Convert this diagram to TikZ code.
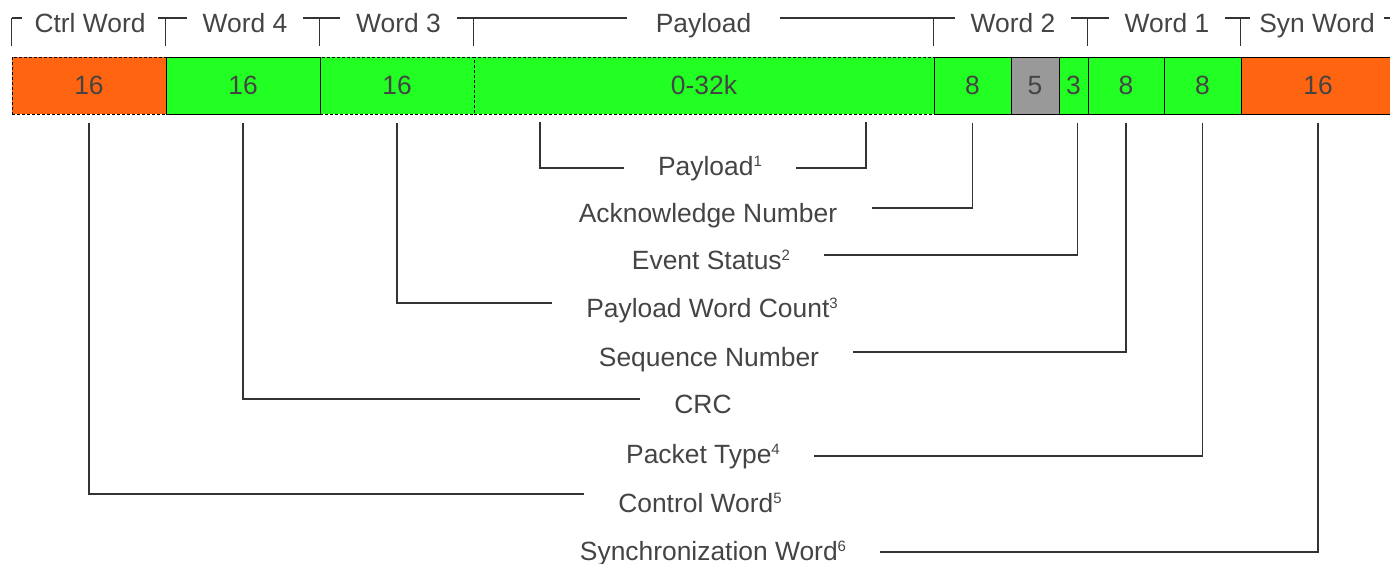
\documentclass[tikz,border=0pt]{standalone}
\usepackage{fontspec}
\setmainfont{Liberation Sans}
\usetikzlibrary{calc}

\definecolor{fldorange}{HTML}{FF6411}
\definecolor{fldgreen}{HTML}{22FF22}
\definecolor{fldgray}{HTML}{999999}
\definecolor{txtgray}{HTML}{444444}

\newcommand{\lblfont}{\fontsize{13.2}{16}\selectfont}
\newcommand{\fnum}[1]{\raisebox{4.3pt}{\fontsize{7.5}{8}\selectfont #1}}

\begin{document}
\begin{tikzpicture}[x=0.5pt,y=-0.5pt]
\useasboundingbox (0,0) rectangle (1390,563);

% height of the field row
\def\rowh{28.5pt}
% styles
\tikzstyle{field} = [
	draw=black, line width=0.5pt, rectangle, inner sep=0pt,
	minimum height=\rowh, text=txtgray, font=\lblfont ];
\tikzstyle{dfield} = [field, dash pattern=on 1.5pt off 1pt];
\tikzstyle{hdr} = [inner sep=0pt, minimum width=57.5pt,
	text height=14pt, text depth=0pt, text=txtgray, font=\lblfont];
\tikzstyle{lbl} = [inner xsep=17pt, inner ysep=0pt,
	text height=14pt, text depth=0pt, text=txtgray, font=\lblfont];
\tikzstyle{wire} = [draw=black!80, line width=0.6pt];

% dashed fields first, solid ones on top
\node[dfield,fill=fldorange,minimum width=77pt] (ctrl) at (89,85.5) {16};
\node[dfield,fill=fldgreen,minimum width=77pt] (w3) at (397,85.5) {16};
\node[dfield,fill=fldgreen,minimum width=230pt] (pay) at (704,85.5) {0-32k};
\node[field,fill=fldgreen,minimum width=77pt] (w4) at (243,85.5) {16};
\node[field,fill=fldgreen,minimum width=38.5pt] (ack) at (972.5,85.5) {8};
\node[field,fill=fldgray,minimum width=24pt] (rsv) at (1035,85.5) {5};
\node[field,fill=fldgreen,minimum width=14.5pt] (evt) at (1073.5,85.5) {3};
\node[field,fill=fldgreen,minimum width=38pt] (seq) at (1126,85.5) {8};
\node[field,fill=fldgreen,minimum width=38.5pt] (typ) at (1202.5,85.5) {8};
\node[field,fill=fldorange,minimum width=77pt] (syn) at (1318,85.5) {16};

% word headers
\node[hdr,minimum width=67.5pt] (hctrl) at (90,18) {Ctrl Word};
\node[hdr] (hw4) at (245,18) {Word 4};
\node[hdr,minimum width=58.5pt] (hw3) at (398.5,18) {Word 3};
\node[hdr,minimum width=76.5pt] (hpay) at (703.5,18) {Payload};
\node[hdr] (hw2) at (1013,18) {Word 2};
\node[hdr] (hw1) at (1167,18) {Word 1};
\node[hdr,minimum width=66.5pt] (hsyn) at (1317,18) {Syn Word};

\coordinate (hl) at (12,18);
\coordinate (hr) at (1390,18);
\draw[wire] (hl) -- (hctrl.west) (hctrl.east) -- (hw4.west)
	(hw4.east) -- (hw3.west) (hw3.east) -- (hpay.west)
	(hpay.east) -- (hw2.west) (hw2.east) -- (hw1.west)
	(hw1.east) -- (hsyn.west) (hsyn.east) -- (hr);
\foreach \f in {ctrl,w4,w3,pay,ack,seq,syn}
	\draw[wire] ($(\f.north west)+(0,-11)$) -- ++(0,-28);

% field names
\node[lbl] (lpay) at (710,161) {Payload\fnum{1}};
\node[lbl] (lack) at (708,208) {Acknowledge Number};
\node[lbl] (levt) at (711,255) {Event Status\fnum{2}};
\node[lbl] (lcnt) at (712,303) {Payload Word Count\fnum{3}};
\node[lbl] (lseq) at (709,352) {Sequence Number};
\node[lbl] (lcrc) at (703,399) {CRC};
\node[lbl] (ltyp) at (703,449) {Packet Type\fnum{4}};
\node[lbl] (lctl) at (700,498) {Control Word\fnum{5}};
\node[lbl] (lsyn) at (713,546) {Synchronization Word\fnum{6}};

\coordinate (pl) at (540,122);
\coordinate (pr) at (866,122);
\draw[wire] (pl) |- ([yshift=-3.5pt]lpay.west);
\draw[wire] (pr) |- ([yshift=-3.5pt]lpay.east);

\draw[wire] (ack.south) ++(0,8) |- (lack.east);
\draw[wire] ([xshift=2pt]evt.south) ++(0,8) |- (levt.east);
\draw[wire] (w3.south) ++(0,8) |- (lcnt.west);
\draw[wire] (seq.south) ++(0,8) |- (lseq.east);
\draw[wire] (w4.south) ++(0,8) |- (lcrc.west);
\draw[wire] (typ.south) ++(0,8) |- ([yshift=-3.5pt]ltyp.east);
\draw[wire] (ctrl.south) ++(0,8) |- ([yshift=2pt]lctl.west);
\draw[wire] (syn.south) ++(0,8) |- ([yshift=-3pt]lsyn.east);

\end{tikzpicture}
\end{document}
